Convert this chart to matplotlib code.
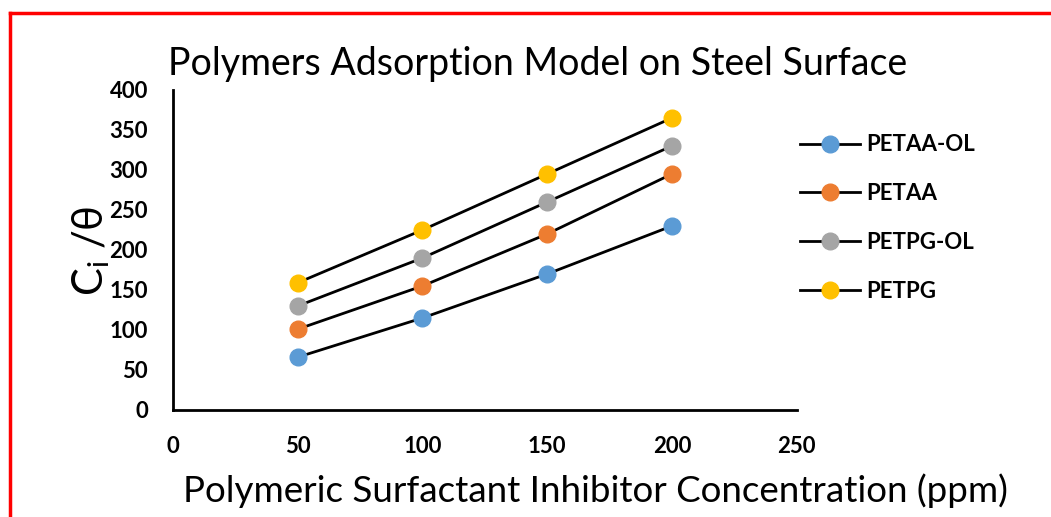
import matplotlib
matplotlib.use("Agg")
import matplotlib.pyplot as plt
from matplotlib.lines import Line2D

# data
conc = [50, 100, 150, 200]
petaa_ol = [66, 115, 170, 230]
petaa = [101, 155, 220, 295]
petpg_ol = [130, 190, 260, 330]
petpg = [159, 225, 295, 365]

names = ["PETAA-OL", "PETAA", "PETPG-OL", "PETPG"]
colors = ["#5B9BD5", "#ED7D31", "#A5A5A5", "#FFC000"]

plt.rcParams["font.family"] = ["Lato", "DejaVu Sans"]

fig = plt.figure(figsize=(10.51, 5.17), dpi=100)
ax = fig.add_axes([0.1646, 0.207, 0.5934, 0.619])

for ys, name, c in zip([petaa_ol, petaa, petpg_ol, petpg], names, colors):
    ax.plot(conc, ys, color="black", lw=2, marker="o", markersize=12,
            markerfacecolor=c, markeredgecolor=c, label=name, zorder=3)

ax.set_xlim(0, 250)
ax.set_ylim(0, 400)
ax.set_xticks(range(0, 251, 50))
ax.set_yticks(range(0, 401, 50))
ax.tick_params(length=0, labelsize=16)
ax.tick_params(axis="y", pad=18)
ax.tick_params(axis="x", pad=19)
for lab in ax.get_xticklabels() + ax.get_yticklabels():
    lab.set_fontweight("bold")
for s in ["top", "right"]:
    ax.spines[s].set_visible(False)
for s in ["left", "bottom"]:
    ax.spines[s].set_linewidth(2)

# titles and axis labels placed in figure coords
fig.text(0.16, 0.855, "Polymers Adsorption Model on Steel Surface", fontsize=27, va="baseline")
fig.text(0.174, 0.029, "Polymeric Surfactant Inhibitor Concentration (ppm)", fontsize=26.5, va="baseline")
fig.text(0.087, 0.515, r"C$_\mathregular{i}$ /θ", fontsize=30, rotation=90, ha="center", va="center")

leg = ax.legend(loc="upper left", bbox_to_anchor=(0.761, 0.74), bbox_transform=fig.transFigure,
                frameon=False, borderpad=0, borderaxespad=0,
                prop={"weight": "bold", "size": 16}, handlelength=2.7,
                labelspacing=1.25, handletextpad=0.3)

# red frame on left and top
fig.add_artist(Line2D([0.0095, 0.0095], [0, 0.975], color="red", lw=2.5, transform=fig.transFigure))
fig.add_artist(Line2D([0.0095, 1], [0.975, 0.975], color="red", lw=2.5, transform=fig.transFigure))

fig.savefig("out.png", dpi=100)
